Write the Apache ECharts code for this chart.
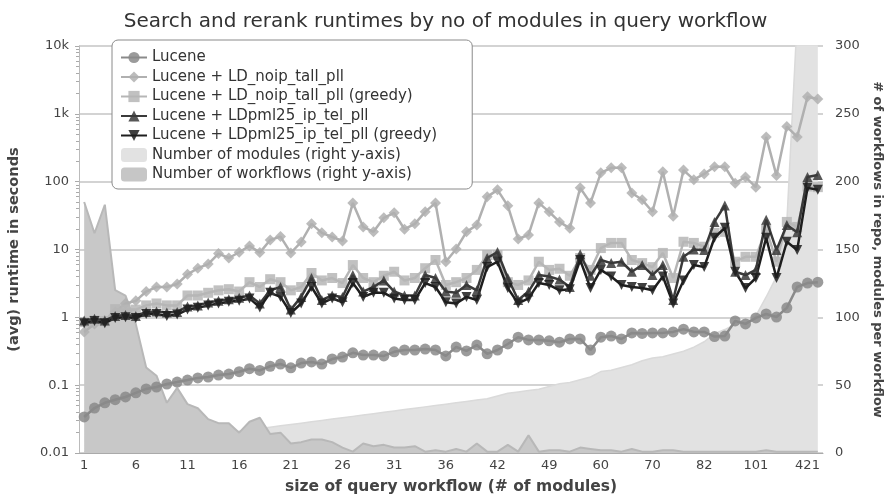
<!DOCTYPE html>
<html>
<head>
<meta charset="utf-8">
<title>runtimes</title>
<script src="https://cdn.jsdelivr.net/npm/echarts@6/dist/echarts.min.js"></script>
<style>
  body { margin: 0; background: #fff; }
  #chart { width: 891px; height: 495px; }
</style>
</head>
<body>
<div id="chart"></div>
<script>
// query workflow sizes (x categories); also the "number of modules" area
var sizes = [1,2,3,4,5,6,7,8,9,10,11,12,13,14,15,16,17,18,19,20,
  21,22,23,24,25,26,27,28,29,30,31,32,33,34,35,36,
  37,38,39,40, 42,44,45,46,47, 49,51,52,54,56, 60,61,63,65,68,
  70,71,73,75,78, 82,88,91,95,98, 101,115,130,170,320, 421,520];

var workflows = [185,162,183,120,116,95,63,57,37,48, 36,33,25,22,22,15,23,26,14,15,
  7,8,10,10,8,4,1,7,5,6, 4,4,5,1,2,1,3,1,7,1,
  1,6,1,13,1,2,2,1,4,3, 2,2,1,3,1,1,2,2,1,1,
  1,1,1,1,1,1,2,1,1,1, 1,1];

var lucene = [0.034,0.046,0.055,0.061,0.067,0.077,0.088,0.094,0.104,0.111,
  0.119,0.128,0.132,0.141,0.146,0.158,0.175,0.165,0.19,0.205,
  0.18,0.212,0.22,0.205,0.243,0.26,0.30,0.278,0.278,0.27,
  0.31,0.33,0.33,0.34,0.33,0.27,0.365,0.32,0.39,0.29,
  0.33,0.405,0.51,0.465,0.465,0.45,0.43,0.48,0.48,0.33,
  0.51,0.53,0.48,0.59,0.58,0.59,0.59,0.61,0.67,0.61,
  0.61,0.52,0.53,0.885,0.80,0.98,1.12,1.01,1.38,2.8,
  3.2,3.3];

var ldNoip = [0.61,0.8,0.9,1.2,1.6,1.75,2.4,2.8,2.8,3.1,
  4.3,5.3,6.1,8.7,7.5,9.1,11.3,9.0,13.8,15.5,
  8.9,12.9,23.9,17.6,15.3,13.4,48.6,21.5,18.2,29.3,
  34.7,19.9,23.9,35.9,48.6,6.6,10.2,18.2,23,59.7,
  75.7,44,14.3,16.4,48.6,35.9,25.5,20.5,81,48.6,
  135,160,160,68,54,36,140,31,148,107,
  130,166,166,95,117,83,457,123,650,457,
  1780,1660];

var ldNoipGreedy = [0.85,0.9,0.88,1.32,1.3,1.3,1.5,1.6,1.5,1.5,
  2.1,2.1,2.3,2.5,2.6,2.4,3.3,2.8,3.65,3.3,
  2.5,2.8,4.5,3.5,3.8,3.2,5.9,3.8,3.3,4.1,
  4.7,3.5,3.8,5.3,7.0,3.0,3.3,3.8,5.0,8.3,
  8.3,3.3,3.0,3.5,6.6,5.0,5.2,4.1,7.5,5.0,
  10.5,12.5,12.5,7,6.3,5.5,8.9,3.8,13,12.5,
  11,17.6,18.2,6.6,7.8,7.8,20,6.6,25.5,21.5,
  85,83];

var ldPml = [0.9,0.95,0.9,1.05,1.08,1.05,1.2,1.22,1.18,1.2,
  1.45,1.5,1.65,1.75,1.85,1.95,2.1,1.6,2.5,2.8,
  1.3,2.0,3.8,1.8,2.1,2.0,4.2,2.4,2.8,3.5,
  2.4,2.1,2.1,4.2,3.8,2.4,2.3,3.0,2.5,7.5,
  9.2,3.8,1.8,2.4,4.2,4.0,3.6,2.8,8.5,4.1,
  7,6.3,6.6,4.7,5.9,4.2,5.9,1.8,7.8,10,
  9.8,25.5,44.6,4.7,4.2,5.0,27.5,9.8,23,18,
  117,125];

var ldPmlGreedy = [0.82,0.88,0.82,0.98,1.0,0.98,1.12,1.12,1.05,1.1,
  1.3,1.38,1.5,1.6,1.7,1.75,1.9,1.4,2.3,2.0,
  1.16,1.6,2.8,1.6,1.9,1.67,3.2,2.0,2.3,2.3,
  1.9,1.8,1.8,3.2,2.8,1.67,1.6,2.0,1.8,5.5,
  6.6,2.7,1.6,1.9,3.2,3.0,2.5,2.6,7,2.7,
  5,4,3.0,2.8,2.7,2.5,4.0,1.6,3.5,5.9,
  5.5,14.9,20.9,4.7,2.7,3.8,14.9,3.8,13,9.8,
  81,76];

var names = ['Lucene', 'Lucene + LD_noip_tall_pll', 'Lucene + LD_noip_tall_pll (greedy)',
  'Lucene + LDpml25_ip_tel_pll', 'Lucene + LDpml25_ip_tel_pll (greedy)',
  'Number of modules (right y-axis)', 'Number of workflows (right y-axis)'];

var font = 'DejaVu Sans';
var chart = echarts.init(document.getElementById('chart'));

function runtimeLine(name, data, symbol, color, size, z) {
  return {
    name: name, type: 'line', data: data, z: z,
    symbol: symbol, symbolSize: size, showAllSymbol: true,
    lineStyle: { color: color, width: 2.5 },
    itemStyle: { color: color, opacity: 0.85 },
    emphasis: { disabled: true }
  };
}

var option = {
  animation: false,
  textStyle: { fontFamily: font },
  title: {
    text: 'Search and rerank runtimes by no of modules in query workflow',
    left: 'center', top: 7,
    textStyle: { fontSize: 20, fontWeight: 'normal', color: '#333', fontFamily: font }
  },
  legend: {
    orient: 'vertical', left: 112, top: 40,
    backgroundColor: '#fff', borderColor: '#8a8a8a', borderWidth: 1, borderRadius: 6,
    padding: [10, 35, 7, 8], itemGap: 4.5, itemWidth: 26, itemHeight: 14,
    textStyle: { fontSize: 15, color: '#333', fontFamily: font },
    data: [names[0], names[1], names[2], names[3], names[4],
      { name: names[5], icon: 'roundRect' }, { name: names[6], icon: 'roundRect' }]
  },
  grid: { left: 79, right: 68, top: 46, bottom: 42, outerBoundsMode: 'none', containLabel: false },
  xAxis: {
    type: 'category', data: sizes, boundaryGap: true,
    name: 'size of query workflow (# of modules)', nameLocation: 'middle', nameGap: 26,
    nameTextStyle: { fontSize: 15.5, fontWeight: 'bold', color: '#444' },
    axisLine: { lineStyle: { color: '#aaa' } },
    axisTick: { interval: 0, length: 5, lineStyle: { color: '#aaa' } },
    axisLabel: { interval: 4, fontSize: 13, color: '#444', margin: 6 }
  },
  yAxis: [{
    type: 'log', logBase: 10, min: 0.01, max: 10000,
    name: '(avg) runtime in seconds', nameLocation: 'middle', nameGap: 57, nameRotate: 90,
    nameTextStyle: { fontSize: 14.5, fontWeight: 'bold', color: '#444' },
    axisLine: { show: true, lineStyle: { color: '#bbb' } },
    axisTick: { show: true, length: 4, lineStyle: { color: '#aaa' } },
    minorTick: { show: true, splitNumber: 9, length: 3, lineStyle: { color: '#aaa' } },
    splitLine: { lineStyle: { color: '#c4c4c4', width: 1.5 } },
    axisLabel: {
      fontSize: 13, color: '#444', margin: 10,
      formatter: function (v) {
        if (v >= 1000) return Math.round(v / 1000) + 'k';
        return String(+v.toPrecision(2));
      }
    }
  }, {
    type: 'value', min: 0, max: 300, interval: 50, position: 'right',
    name: '# of workflows in repo, modules per workflow', nameLocation: 'middle',
    nameGap: 46, nameRotate: -90,
    nameTextStyle: { fontSize: 13, fontWeight: 'bold', color: '#444' },
    axisLine: { show: false }, axisTick: { show: false }, splitLine: { show: false },
    axisLabel: { fontSize: 13, color: '#444', margin: 12 }
  }],
  series: [
    runtimeLine(names[0], lucene, 'circle', '#8a8a8a', 11, 6),
    runtimeLine(names[1], ldNoip, 'diamond', '#b0b0b0', 11, 3),
    runtimeLine(names[2], ldNoipGreedy, 'rect', '#b6b6b6', 10, 4),
    runtimeLine(names[3], ldPml, 'triangle', '#3a3a3a', 10, 5),
    Object.assign(runtimeLine(names[4], ldPmlGreedy, 'triangle', '#1e1e1e', 10, 5), { symbolRotate: 180 }),
    {
      name: names[5], type: 'line', yAxisIndex: 1, data: sizes, z: 1,
      symbol: 'none', itemStyle: { color: '#e2e2e2' },
      lineStyle: { color: '#dadada', width: 1.5 },
      areaStyle: { color: '#e2e2e2', opacity: 1 }
    },
    {
      name: names[6], type: 'line', yAxisIndex: 1, data: workflows, z: 2,
      symbol: 'none', itemStyle: { color: '#c6c6c6' },
      lineStyle: { color: '#b8b8b8', width: 2 },
      areaStyle: { color: '#c8c8c8', opacity: 1 }
    }
  ]
};
chart.setOption(option);
</script>
</body>
</html>
